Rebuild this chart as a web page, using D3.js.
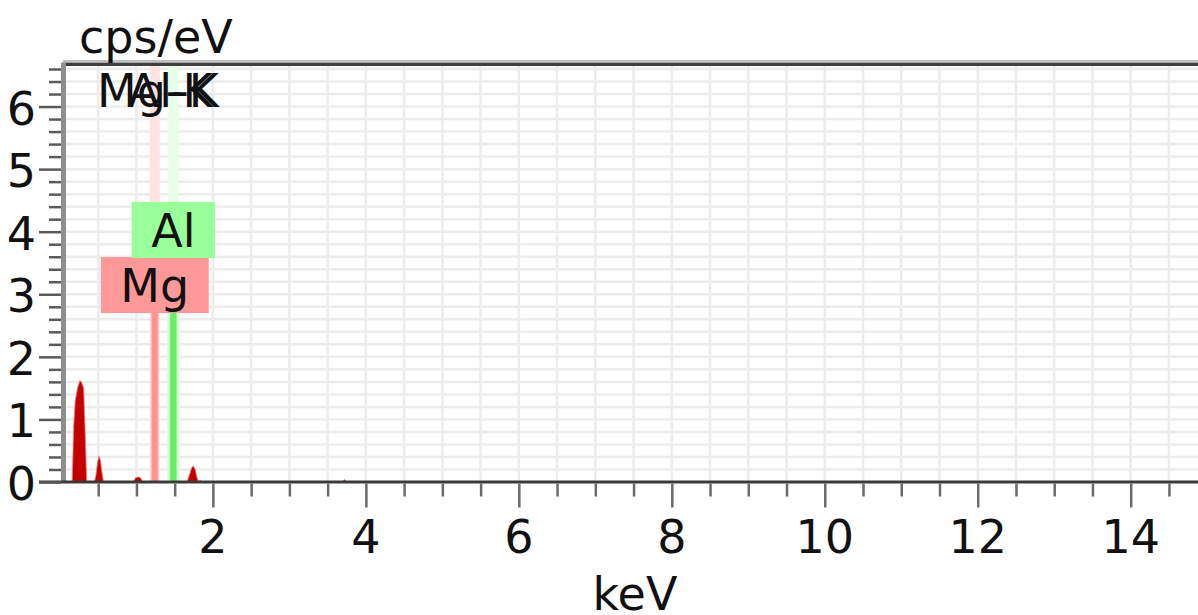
<!DOCTYPE html>
<html>
<head>
<meta charset="utf-8">
<script src="https://cdn.jsdelivr.net/npm/d3@7/dist/d3.min.js"></script>
<style>
  html, body { margin: 0; padding: 0; background: #fff; }
  #chart svg { display: block; font-family: "DejaVu Sans", Verdana, sans-serif; }
</style>
</head>
<body>
<div id="chart"></div>
<script>
// spectrum: energy (keV) and intensity (cps/eV)
const spectrumKeV = [0.04, 0.16, 0.18, 0.20, 0.23, 0.26, 0.28, 0.31, 0.33, 0.35,
    0.45, 0.47, 0.49, 0.51, 0.53, 0.55, 0.57,
    0.96, 0.99, 1.03, 1.06, 1.08,
    1.20, 1.23, 1.27, 1.30,
    1.44, 1.47, 1.51, 1.54,
    1.66, 1.69, 1.72, 1.74, 1.77, 1.79, 1.81, 1.83, 1.86,
    3.69, 3.72, 3.75, 14.9];
const spectrumCps = [0, 0, 0.9, 1.3, 1.5, 1.62, 1.6, 1.5, 0.8, 0,
    0, 0.1, 0.3, 0.42, 0.34, 0.15, 0,
    0, 0.07, 0.08, 0.06, 0,
    0, 0.08, 0.08, 0,
    0, 0.08, 0.08, 0,
    0, 0.1, 0.22, 0.26, 0.2, 0.08, 0, 0.03, 0,
    0, 0.04, 0, 0];

// identified elements
const elements = ["Mg", "Al"];
const elementLines = ["Mg-K", "Al-K"];
const elementKeV = [1.24, 1.483];
const elementLevel = [2.70, 3.58];

const xTickLabels = [2, 4, 6, 8, 10, 12, 14];
const yTickLabels = [0, 1, 2, 3, 4, 5, 6];

const width = 1198;
const height = 615;
const plotLeft = 63;
const plotRight = 1198;
const plotTop = 64;
const plotBottom = 482;
const fontSize = "46px";

const svg = d3.select("#chart")
    .append("svg")
    .attr("width", width)
    .attr("height", height);

const x = d3.scaleLinear().domain([0.04, 14.88]).range([plotLeft, plotRight]);
const y = d3.scaleLinear().domain([0, 6.68]).range([plotBottom, plotTop]);

// grid
svg.append("g")
    .selectAll("line")
    .data(d3.range(1, 30).map(i => i * 0.5))
    .enter()
    .append("line")
    .attr("x1", d => x(d))
    .attr("x2", d => x(d))
    .attr("y1", plotTop)
    .attr("y2", plotBottom)
    .attr("stroke", "#ececec")
    .attr("stroke-width", 2.5);

svg.append("g")
    .selectAll("line")
    .data(d3.range(1, 34).map(i => i * 0.2))
    .enter()
    .append("line")
    .attr("x1", plotLeft)
    .attr("x2", plotRight)
    .attr("y1", d => y(d))
    .attr("y2", d => y(d))
    .attr("stroke", "#ececec")
    .attr("stroke-width", 2.5);

// spectrum
const points = spectrumKeV.map((e, i) => [e, spectrumCps[i]]);

const area = d3.area()
    .x(d => x(d[0]))
    .y0(y(0))
    .y1(d => y(d[1]));

svg.append("path")
    .datum(points)
    .attr("d", area)
    .attr("fill", "#c40000")
    .attr("stroke", "#e88080")
    .attr("stroke-width", 0.8);

// element marker lines
const markerData = elements.map((el, i) => ({
    name: el, line: elementLines[i], keV: elementKeV[i], level: elementLevel[i]
}));
const paleColor = { Mg: "#ffe2e2", Al: "#e6ffe6" };
const haloColor = { Mg: "#ffc6c6", Al: "#dcffdc" };
const coreColor = { Mg: "#ff9494", Al: "#66ee66" };
const boxColor = { Mg: "#ff9999", Al: "#99ff99" };

const markers = svg.append("g");

markers.selectAll(".pale")
    .data(markerData)
    .enter()
    .append("rect")
    .attr("x", d => x(d.keV) - 5)
    .attr("width", 10)
    .attr("y", plotTop + 2)
    .attr("height", d => y(d.level) - plotTop - 2)
    .attr("fill", d => paleColor[d.name]);

markers.selectAll(".halo")
    .data(markerData)
    .enter()
    .append("rect")
    .attr("x", d => x(d.keV) - (d.name === "Al" ? 6.5 : 4.5))
    .attr("width", d => d.name === "Al" ? 13 : 9)
    .attr("y", d => y(d.level))
    .attr("height", d => y(0) - y(d.level))
    .attr("fill", d => haloColor[d.name]);

markers.selectAll(".core")
    .data(markerData)
    .enter()
    .append("rect")
    .attr("x", d => x(d.keV) - (d.name === "Al" ? 3.2 : 3))
    .attr("width", d => d.name === "Al" ? 6.4 : 6)
    .attr("y", d => y(d.level))
    .attr("height", d => y(0) - y(d.level))
    .attr("fill", d => coreColor[d.name]);

// line labels at top
markers.selectAll(".lineLabel")
    .data(markerData)
    .enter()
    .append("text")
    .attr("x", d => x(d.keV))
    .attr("y", 107)
    .attr("text-anchor", "middle")
    .style("font-size", fontSize)
    .attr("fill", "#111")
    .text(d => d.line);

// element boxes
const boxes = markers.selectAll(".box")
    .data(markerData)
    .enter()
    .append("g");

boxes.append("text")
    .attr("class", "boxText")
    .attr("x", d => x(d.keV))
    .attr("y", d => y(d.level) - 11)
    .attr("text-anchor", "middle")
    .style("font-size", fontSize)
    .attr("fill", "#111")
    .text(d => d.name);

boxes.each(function (d) {
    const g = d3.select(this);
    const bb = g.select("text").node().getBBox();
    g.insert("rect", "text")
        .attr("x", x(d.keV) - bb.width / 2 - 19.5)
        .attr("width", bb.width + 39)
        .attr("y", y(d.level) - 56)
        .attr("height", 56)
        .attr("fill", boxColor[d.name]);
});

// frame
svg.append("rect")
    .attr("x", plotLeft)
    .attr("y", 60)
    .attr("width", plotRight - plotLeft)
    .attr("height", 2.7)
    .attr("fill", "#c0c0c0");

svg.append("rect")
    .attr("x", plotLeft - 1)
    .attr("y", 62.7)
    .attr("width", plotRight - plotLeft + 1)
    .attr("height", 3.3)
    .attr("fill", "#404040");

svg.append("rect")
    .attr("x", 61)
    .attr("y", 62.7)
    .attr("width", 5)
    .attr("height", plotBottom - 62.7)
    .attr("fill", "#8e8e8e");

// x axis
svg.append("rect")
    .attr("x", 39)
    .attr("y", plotBottom - 1.5)
    .attr("width", plotRight - 39)
    .attr("height", 3)
    .attr("fill", "#3a3a3a");

const xAxis = d3.axisBottom(x)
    .tickValues(d3.range(1, 30).map(i => i * 0.5))
    .tickSize(15)
    .tickFormat("");

svg.append("g")
    .attr("transform", `translate(0,${plotBottom + 1.5})`)
    .call(xAxis)
    .call(g => g.select(".domain").remove())
    .call(g => g.selectAll(".tick line")
        .attr("stroke", "#6a6a6a")
        .attr("stroke-width", 2.5)
        .attr("y2", d => (d % 2 === 0) ? 24 : 13));

svg.append("g")
    .selectAll("text")
    .data(xTickLabels)
    .enter()
    .append("text")
    .attr("x", d => x(d))
    .attr("y", 553)
    .attr("text-anchor", "middle")
    .style("font-size", fontSize)
    .attr("fill", "#111")
    .text(d => d);

// y axis
const yAxis = d3.axisLeft(y)
    .tickValues(d3.range(0, 34).map(i => i * 0.2))
    .tickSize(12)
    .tickFormat("");

svg.append("g")
    .attr("transform", "translate(61,0)")
    .call(yAxis)
    .call(g => g.select(".domain").remove())
    .call(g => g.selectAll(".tick line")
        .attr("stroke", "#5a5a5a")
        .attr("stroke-width", 2.5)
        .attr("x2", d => (Math.abs(d - Math.round(d)) < 0.01) ? -22 : -12));

svg.append("g")
    .selectAll("text")
    .data(yTickLabels)
    .enter()
    .append("text")
    .attr("x", 36)
    .attr("y", d => y(d) + 18)
    .attr("text-anchor", "end")
    .style("font-size", fontSize)
    .attr("fill", "#111")
    .text(d => d);

// axis titles
svg.append("text")
    .attr("x", 79)
    .attr("y", 53)
    .style("font-size", fontSize)
    .attr("fill", "#111")
    .text("cps/eV");

svg.append("text")
    .attr("x", 635)
    .attr("y", 610)
    .attr("text-anchor", "middle")
    .style("font-size", fontSize)
    .attr("fill", "#111")
    .text("keV");
</script>
</body>
</html>
